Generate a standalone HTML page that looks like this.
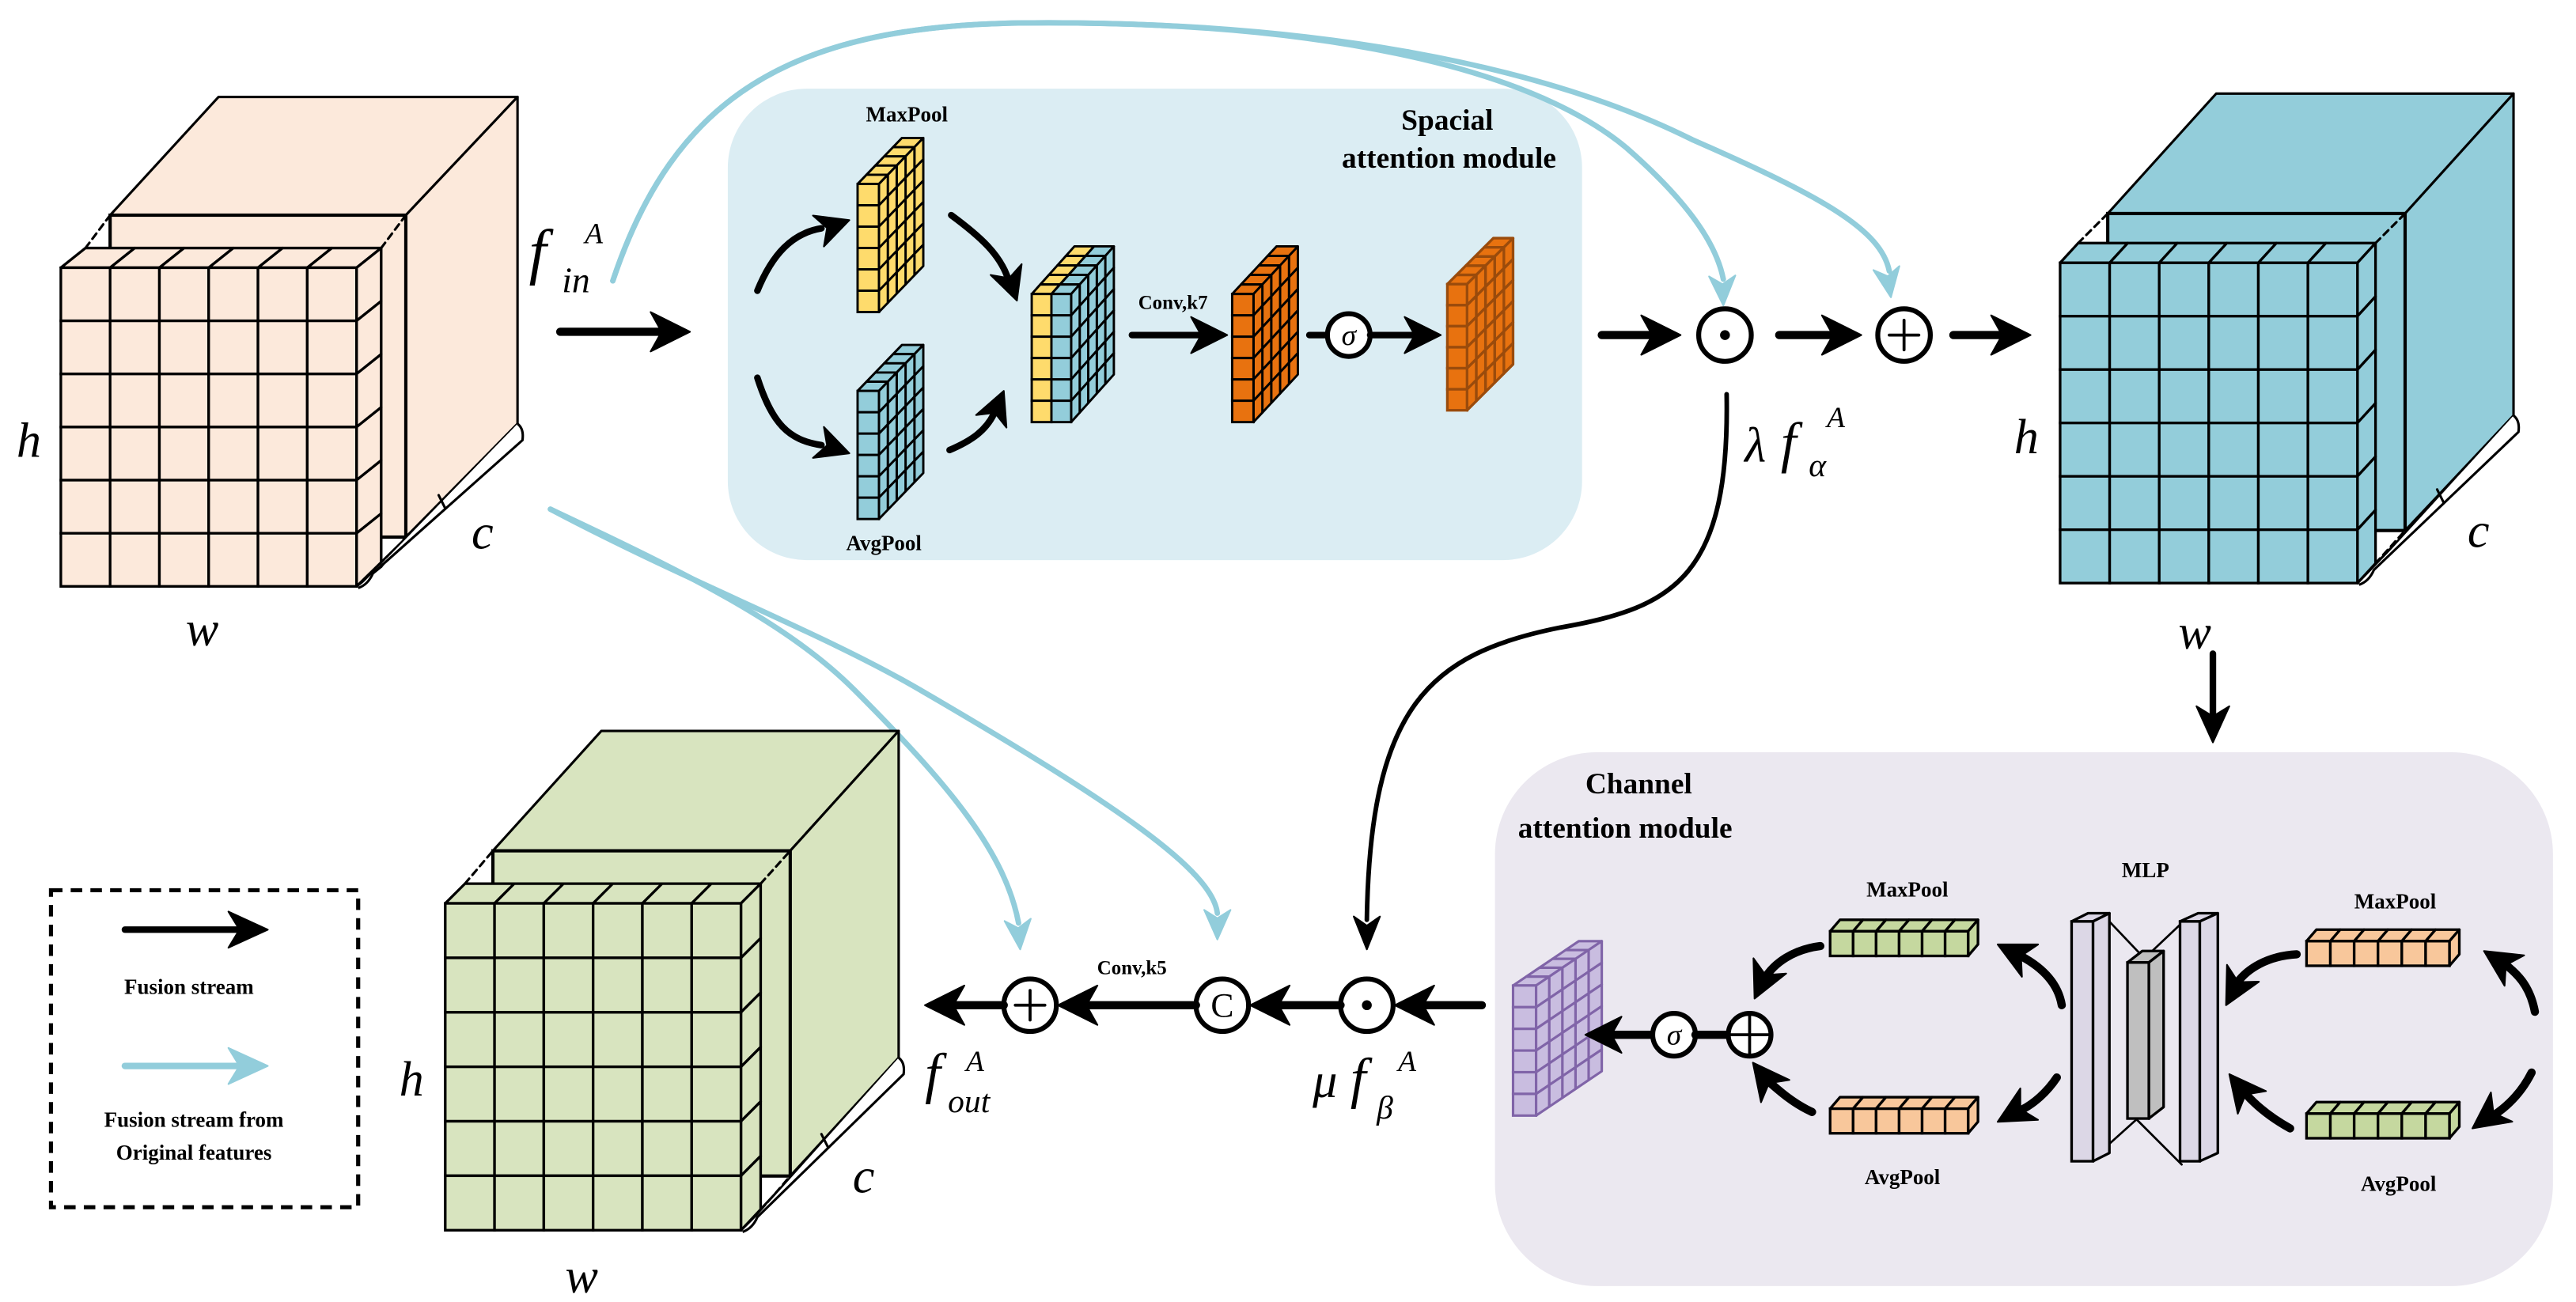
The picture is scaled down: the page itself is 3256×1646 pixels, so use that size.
<!DOCTYPE html>
<html><head><meta charset="utf-8">
<style>html,body{margin:0;padding:0;background:#fff;}svg{display:block;}
text{font-family:"Liberation Serif","DejaVu Serif",serif;}
.b{font-weight:bold;}
.m{font-style:italic;}
</style></head><body>
<svg id="s" xmlns="http://www.w3.org/2000/svg" width="3256" height="1646" viewBox="0 0 1568 792.7">
<rect width="1568" height="793" fill="#fff"/>
<rect x="443" y="54" width="520" height="287" rx="48" fill="#dbedf3"/>
<rect x="910" y="458" width="644" height="325" rx="62" fill="#ebe8f0"/>
<g id="shapes"></g>
<g id="txt">
<text class="b" x="552" y="74" font-size="13" text-anchor="middle">MaxPool</text>
<text class="b" x="538" y="335" font-size="13" text-anchor="middle">AvgPool</text>
<text class="b" x="881" y="79" font-size="18" text-anchor="middle">Spacial</text>
<text class="b" x="882" y="102" font-size="18" text-anchor="middle">attention module</text>
<text class="b" x="714" y="188" font-size="12" text-anchor="middle">Conv,k7</text>
<text class="b" x="965" y="483" font-size="18">Channel</text>
<text class="b" x="924" y="510" font-size="18">attention module</text>
<text class="b" x="1161" y="546" font-size="13" text-anchor="middle">MaxPool</text>
<text class="b" x="1158" y="721" font-size="13" text-anchor="middle">AvgPool</text>
<text class="b" x="1306" y="534" font-size="13" text-anchor="middle">MLP</text>
<text class="b" x="1458" y="553" font-size="13" text-anchor="middle">MaxPool</text>
<text class="b" x="1460" y="725" font-size="13" text-anchor="middle">AvgPool</text>
<text class="b" x="689" y="593" font-size="12" text-anchor="middle">Conv,k5</text>
<text class="b" x="115" y="605" font-size="13" text-anchor="middle">Fusion stream</text>
<text class="b" x="118" y="686" font-size="13" text-anchor="middle">Fusion stream from</text>
<text class="b" x="118" y="706" font-size="13" text-anchor="middle">Original features</text>
<text class="m" x="10" y="278" font-size="30">h</text>
<text class="m" x="113" y="393" font-size="30">w</text>
<text class="m" x="287" y="334" font-size="30">c</text>
<text class="m" x="1226" y="276" font-size="30">h</text>
<text class="m" x="1326" y="395" font-size="30">w</text>
<text class="m" x="1502" y="333" font-size="30">c</text>
<text class="m" x="243" y="667" font-size="30">h</text>
<text class="m" x="344" y="787" font-size="30">w</text>
<text class="m" x="519" y="726" font-size="30">c</text>
<text class="m" x="322" y="166" font-size="38">f</text>
<text class="m" x="342" y="178" font-size="22">in</text>
<text class="m" x="356" y="148" font-size="18">A</text>
<text class="m" x="1062" y="281" font-size="30">λ</text>
<text class="m" x="1084" y="281" font-size="34">f</text>
<text class="m" x="1101" y="290" font-size="20">α</text>
<text class="m" x="1112" y="260" font-size="18">A</text>
<text class="m" x="563" y="665" font-size="34">f</text>
<text class="m" x="577" y="677" font-size="20">out</text>
<text class="m" x="588" y="652" font-size="18">A</text>
<text class="m" x="799" y="668" font-size="30">μ</text>
<text class="m" x="822" y="668" font-size="34">f</text>
<text class="m" x="838" y="681" font-size="20">β</text>
<text class="m" x="851" y="652" font-size="18">A</text>
<text class="m" x="821" y="210" font-size="18" text-anchor="middle">σ</text>
<text class="m" x="1019" y="636" font-size="18" text-anchor="middle">σ</text>
<text x="744" y="619" font-size="21" text-anchor="middle">C</text>
</g>
</svg>
<script>
var G=document.getElementById('shapes');var NS='http://www.w3.org/2000/svg';
function el(t,a){var e=document.createElementNS(NS,t);for(var k in a)e.setAttribute(k,a[k]);G.appendChild(e);return e;}
function poly(pts,fill,st,sw){return el('polygon',{points:pts.map(function(p){return p[0]+','+p[1]}).join(' '),fill:fill,stroke:st||'#000','stroke-width':sw||1.5,'stroke-linejoin':'round'});}
function line(x1,y1,x2,y2,st,sw,extra){var a={x1:x1,y1:y1,x2:x2,y2:y2,stroke:st||'#000','stroke-width':sw||1.5,'stroke-linecap':'round'};for(var k in extra)a[k]=extra[k];return el('line',a);}
function block(x,y,cols,rows,cw,ch,n,dx,dy,fill,st,sw){
  var f=typeof fill=='function'?fill:function(){return fill};
  var sx=dx/n,sy=dy/n,W=cols*cw,H=rows*ch;st=st||'#000';sw=sw||1.5;
  for(var k=n-1;k>=0;k--)for(var c=0;c<cols;c++){var X=x+c*cw+k*sx,Y=y+k*sy;poly([[X,Y],[X+cw,Y],[X+cw+sx,Y+sy],[X+sx,Y+sy]],f(c),st,sw);}
  for(var k=n-1;k>=0;k--)for(var r=0;r<rows;r++){var X=x+W+k*sx,Y=y+r*ch+k*sy;poly([[X,Y],[X+sx,Y+sy],[X+sx,Y+sy+ch],[X,Y+ch]],f(cols-1),st,sw);}
  for(var c=0;c<cols;c++)for(var r=0;r<rows;r++)el('rect',{x:x+c*cw,y:y+r*ch,width:cw,height:ch,fill:f(c),stroke:st,'stroke-width':sw});
}
function head(tx,ty,px,py,L,W,col){var a=Math.atan2(ty-py,tx-px),c=Math.cos(a),s=Math.sin(a);
  function p(u,v){return [tx+u*c-v*s,ty+u*s+v*c];}
  poly([p(0,0),p(-L,-W),p(-0.72*L,0),p(-L,W)],col,col,1);}
function carrow(d,tx,ty,px,py,col,sw,L,W){el('path',{d:d,fill:'none',stroke:col,'stroke-width':sw,'stroke-linecap':'round'});head(tx,ty,px,py,L,W,col);}
function sarrow(x1,y1,x2,y2,col,sw,L,W){var a=Math.atan2(y2-y1,x2-x1);line(x1,y1,x2-0.7*L*Math.cos(a),y2-0.7*L*Math.sin(a),col,sw);head(x2,y2,x1,y1,L,W,col);}
function circ(x,y,r,sw){return el('circle',{cx:x,cy:y,r:r,fill:'#fff',stroke:'#000','stroke-width':sw||3});}
function cube(o){var f=o.fill;
  poly([[o.bx0,o.by0],[o.tx0,o.ty],[o.tx1,o.ty],[o.bx1,o.by0]],f);
  poly([[o.bx1,o.by0],[o.tx1,o.ty],[o.tx1,o.rb],[o.bx1,o.by1]],f);
  el('rect',{x:o.bx0,y:o.by0,width:o.bx1-o.bx0,height:o.by1-o.by0,fill:f,stroke:'#000','stroke-width':2});
  line(o.gx0+o.sdx,o.gy0+o.sdy,o.bx0,o.by0,'#000',1.5,{'stroke-dasharray':'4,3'});
  line(o.gx1+o.sdx,o.gy0+o.sdy,o.bx1,o.by0,'#000',1.5,{'stroke-dasharray':'4,3'});
  line(o.gx1+o.sdx,o.gy1+o.sdy,o.bx1,o.by1,'#000',1.5,{'stroke-dasharray':'4,3'});
  var cw=(o.gx1-o.gx0)/6,ch=(o.gy1-o.gy0)/6;
  block(o.gx0,o.gy0,6,6,cw,ch,1,o.sdx,o.sdy,f,'#000',1.6);
  var gx=o.gx1,gy=o.gy1;
  el('path',{d:'M'+gx+','+gy+' L'+(o.tx1-3)+','+(o.rb+6)+' Q'+(o.tx1+1)+','+(o.rb+3)+' '+o.tx1+','+o.rb,fill:'none',stroke:'#000','stroke-width':1.5});
  el('path',{d:'M'+(gx+1)+','+(gy+1)+' Q'+(gx+7)+','+(gy-1)+' '+(gx+10)+','+(gy-8)+' L'+(o.tx1+3)+','+(o.rb+10)+' Q'+(o.tx1+4)+','+(o.rb+3)+' '+o.tx1+','+o.rb,fill:'#fff',stroke:'#000','stroke-width':1.5});
  var mx=(gx+o.tx1)/2+5,my=(gy+o.rb)/2+2;line(mx,my,mx-4,my-8,'#000',1.5);
}
var BL='#92cddb';
carrow('M373,171 C410,60 480,16 620,14 C800,12 930,40 990,90 C1030,125 1045,150 1049,170',1049,186,1048,160,BL,3.3,18,8);
carrow('M373,171 C410,60 480,16 620,14 C800,12 940,40 1030,85 C1110,120 1145,140 1150,165',1151,181,1147,155,BL,3.3,18,8);
carrow('M335,310 C420,350 480,380 520,420 C580,480 612,520 620,562',621,578,619,555,BL,3.3,18,8);
carrow('M335,310 C420,355 500,385 560,420 C680,490 738,530 741,556',741,572,741,550,BL,3.3,18,8);
cube({gx0:37,gy0:163,gx1:217,gy1:357,sdx:15,sdy:-12,bx0:67,by0:131,bx1:247,by1:327,tx0:133,tx1:315,ty:59,rb:258,fill:'#fce9db'});
cube({gx0:1254,gy0:160,gx1:1435,gy1:355,sdx:11,sdy:-12,bx0:1283,by0:130,bx1:1464,by1:323,tx0:1349,tx1:1530,ty:57,rb:253,fill:'#93cdda'});
cube({gx0:271,gy0:550,gx1:451,gy1:749,sdx:12,sdy:-12,bx0:300,by0:518,bx1:481,by1:716,tx0:366,tx1:547,ty:445,rb:644,fill:'#d8e4bf'});
var Y='#fedb6c',B='#93cdda',O='#e8720f';
block(522,112,1,6,13,13,5,27,-28,Y,'#000',1.4);
block(522,238,1,6,13,13,5,27,-28,B,'#000',1.4);
block(628,179,2,6,12,13,5,26,-29,function(c){return c==0?Y:B},'#000',1.4);
block(750,179,1,6,13,13,5,27,-29,O,'#000',1.4);
block(881,173,1,6,12,12.8,5,28,-28,O,'#9a4b0c',1.6);
carrow('M461,177 C470,155 482,142 500,139',517,134,500,140,'#000',4,20,10);
carrow('M461,230 C470,258 480,268 500,271',517,276,500,270,'#000',4,20,10);
carrow('M579,131 C598,145 608,155 613,168',619,183,611,160,'#000',4,20,10);
carrow('M578,274 C592,268 600,262 605,252',611,238,604,255,'#000',4,20,10);
sarrow(689,204,747,204,'#000',4,22,11);
line(797,204,810,204,'#000',4);circ(821,204,13,3);
sarrow(834,204,877,204,'#000',4,22,11);
sarrow(341,202,420,202,'#000',5,24,12);
sarrow(975,204,1023,204,'#000',5,24,12);
circ(1050,204,16,3);el('circle',{cx:1050,cy:204,r:3,fill:'#000'});
sarrow(1083,204,1133,204,'#000',5,24,12);
circ(1159,204,16,3);line(1150,204,1168,204,'#000',1.8);line(1159,195,1159,213,'#000',1.8);
sarrow(1189,204,1236,204,'#000',5,24,12);
sarrow(1347,398,1347,452,'#000',4,22,10);
carrow('M1051,240 C1053,350 1020,370 950,382 C870,398 834,430 832,560',832,578,832,555,'#000',2.8,20,8);
sarrow(902,612,849,612,'#000',5,24,12);
circ(832,612,16,3);el('circle',{cx:832,cy:612,r:3,fill:'#000'});
sarrow(816,612,761,612,'#000',5,24,12);
circ(744,612,16,3);
sarrow(728,612,644,612,'#000',5,24,12);
circ(627,612,16,3);line(618,612,636,612,'#000',1.8);line(627,603,627,621,'#000',1.8);
sarrow(611,612,563,612,'#000',5,24,12);
el('rect',{x:31,y:542,width:187,height:193,fill:'none',stroke:'#000','stroke-width':2.5,'stroke-dasharray':'7,5'});
sarrow(76,566,163,566,'#000',4,24,11);
sarrow(76,649,163,649,BL,4,24,11);
var P='#c9bde0',GR='#c5d89f',OR='#f8c79b';
block(921,600,1,6,14,13.2,5,40,-27,P,'#8064a8',1.5);
sarrow(1006,630,965,630,'#000',5,22,11);
circ(1019,630,13,3);line(1032,630,1052,630,'#000',5);
circ(1065,630,13,3);line(1052,630,1078,630,'#000',1.8);line(1065,617,1065,643,'#000',1.8);
block(1114,567,6,1,14,15,1,6,-7,GR,'#000',1.6);
block(1114,675,6,1,14,15,1,6,-7,OR,'#000',1.6);
block(1404,573,6,1,14.5,15,1,6,-7,OR,'#000',1.6);
block(1404,678,6,1,14.5,15,1,6,-7,GR,'#000',1.6);
line(1283,560,1302,580,'#000',1.3);line(1327,563,1309,580,'#000',1.3);
line(1280,700,1300,682,'#000',1.3);line(1301,682,1328,709,'#000',1.3);
block(1261,561,1,1,13,146,1,10,-5,'#dcd7e6','#000',1.6);
block(1327,561,1,1,12,146,1,11,-5,'#dcd7e6','#000',1.6);
block(1295,586,1,1,13,95,1,9,-7,'#bfbfbf','#000',1.6);
carrow('M1543,616 C1540,600 1532,592 1522,585',1512,579,1526,588,'#000',5,22,11);
carrow('M1541,653 C1535,665 1527,673 1518,679',1505,687,1520,676,'#000',5,22,11);
carrow('M1398,581 C1380,582 1368,590 1362,598',1355,612,1364,595,'#000',5,22,11);
carrow('M1394,687 C1385,682 1375,675 1367,666',1357,654,1369,669,'#000',5,22,11);
carrow('M1255,612 C1253,600 1245,590 1230,582',1216,575,1232,583,'#000',5,22,11);
carrow('M1252,656 C1246,665 1238,672 1230,676',1216,683,1232,674,'#000',5,22,11);
carrow('M1108,576 C1092,578 1080,586 1074,596',1068,608,1075,593,'#000',5,22,11);
carrow('M1103,677 C1092,672 1084,665 1076,658',1067,647,1078,661,'#000',5,22,11);
</script>
</body></html>
